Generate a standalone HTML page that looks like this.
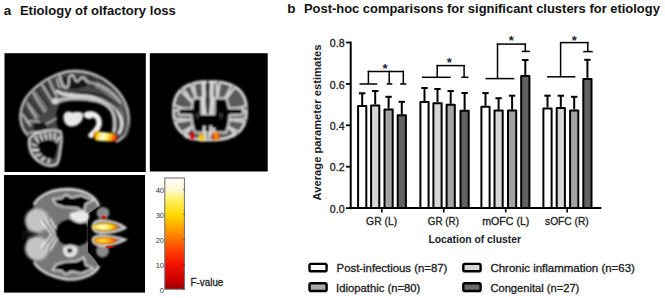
<!DOCTYPE html>
<html><head><meta charset="utf-8">
<style>
html,body{margin:0;padding:0;background:#fff;}
body{width:665px;height:298px;overflow:hidden;position:relative;}
svg{position:absolute;left:0;top:0;display:block;}
text{font-family:"Liberation Sans",sans-serif;}
.r{stroke:#222;stroke-width:0.3px;}
</style></head>
<body>
<svg width="665" height="298" viewBox="0 0 665 298">
<defs>
<filter id="b1" x="-20%" y="-20%" width="140%" height="140%"><feGaussianBlur stdDeviation="0.85"/></filter>
<filter id="b2" x="-20%" y="-20%" width="140%" height="140%"><feGaussianBlur stdDeviation="1.6"/></filter>
<filter id="b3" x="-30%" y="-30%" width="160%" height="160%"><feGaussianBlur stdDeviation="3"/></filter>
<radialGradient id="hot" cx="0.4" cy="0.5" r="0.62">
<stop offset="0" stop-color="#fffff0"/>
<stop offset="0.35" stop-color="#fff590"/>
<stop offset="0.6" stop-color="#ffd800"/>
<stop offset="0.82" stop-color="#ff9a00"/>
<stop offset="1" stop-color="#ff4000"/>
</radialGradient>
<linearGradient id="hotL" x1="0" y1="0" x2="1" y2="0.15">
<stop offset="0" stop-color="#d81000"/>
<stop offset="0.08" stop-color="#ff6a00"/>
<stop offset="0.2" stop-color="#ffd800"/>
<stop offset="0.4" stop-color="#ffffd8"/>
<stop offset="0.6" stop-color="#fff27a"/>
<stop offset="0.8" stop-color="#ffb400"/>
<stop offset="0.93" stop-color="#ff5000"/>
<stop offset="1" stop-color="#e02000"/>
</linearGradient>
<radialGradient id="hot2" cx="0.4" cy="0.5" r="0.62">
<stop offset="0" stop-color="#fff27a"/>
<stop offset="0.35" stop-color="#ffc400"/>
<stop offset="0.7" stop-color="#ff8000"/>
<stop offset="1" stop-color="#ff3000"/>
</radialGradient>
<clipPath id="c1"><rect x="4.5" y="53.2" width="141.3" height="118.8"/></clipPath>
<clipPath id="c2"><rect x="149.8" y="53.2" width="117.9" height="118.3"/></clipPath>
<clipPath id="ce2"><path d="M247.4,110.8 L247.3,115.1 L246.9,118.2 L246.4,121.0 L245.6,123.6 L244.6,125.9 L243.3,128.1 L241.9,130.1 L240.2,131.9 L238.3,133.6 L236.3,135.1 L234.0,136.5 L231.5,137.6 L228.8,138.6 L225.9,139.4 L222.7,140.1 L219.2,140.5 L215.3,140.8 L210.0,140.9 L204.7,140.8 L200.8,140.5 L197.3,140.1 L194.1,139.4 L191.2,138.6 L188.5,137.6 L186.0,136.5 L183.7,135.1 L181.7,133.6 L179.8,131.9 L178.1,130.1 L176.7,128.1 L175.4,125.9 L174.4,123.6 L173.6,121.0 L173.1,118.2 L172.7,115.1 L172.6,110.8 L172.7,106.5 L173.1,103.4 L173.6,100.6 L174.4,98.0 L175.4,95.7 L176.7,93.5 L178.1,91.5 L179.8,89.7 L181.7,88.0 L183.7,86.5 L186.0,85.1 L188.5,84.0 L191.2,83.0 L194.1,82.2 L197.3,81.5 L200.8,81.1 L204.7,80.8 L210.0,80.7 L215.3,80.8 L219.2,81.1 L222.7,81.5 L225.9,82.2 L228.8,83.0 L231.5,84.0 L234.0,85.1 L236.3,86.5 L238.3,88.0 L240.2,89.7 L241.9,91.5 L243.3,93.5 L244.6,95.7 L245.6,98.0 L246.4,100.6 L246.9,103.4 L247.3,106.5 Z"/></clipPath>
<clipPath id="c3"><rect x="4" y="175" width="141" height="117.6"/></clipPath>
</defs>

<!-- panel 1: sagittal -->
<rect x="4.5" y="53.2" width="141.3" height="118.8" fill="#000"/>
<g clip-path="url(#c1)">
<g filter="url(#b1)">
<!-- cerebrum tissue -->
<path d="M28,136 C22,130 19.5,122 20.2,114 C21,106 24,99 29,93.5 C34,88 40,83 47,79 C53,75.5 59,73 66,71.5 C78,69.5 92,72 104,79 C116,87 125,98 128,110 C130,120 129,130 125,135 C122,139 119,141 116,142 L113,140 C114.5,132 114.5,122 112.5,113.5 C109,106 101,101.5 90,101 C78,100.5 66,100.5 59,105 C55,114 56,122 58,128 L58,131 C48,130 38,131 30,134 Z" fill="#474747"/>
<!-- outer bright edge -->
<path d="M28,136 C22,130 19.5,122 20.2,114 C21,106 24,99 29,93.5 C34,88 40,83 47,79 C53,75.5 59,73 66,71.5 C78,69.5 92,72 104,79 C116,87 125,98 128,110 C130,120 129,130 125,135 C122,139 119,141 116,142" fill="none" stroke="#d4d4d4" stroke-width="1.8"/>
<!-- posterior gyri: white radial -->
<path d="M41.5,84 C45,89 49,96 53.6,103.6 M33,92.5 C36,98 40,105 45.2,112 M26.5,101.6 C29,107 33,113 37,119 M49,79.5 C51,85 54,91 57,97 M22,114 C25,118 28,122 31,126" fill="none" stroke="#d0d0d0" stroke-width="1.4"/>
<path d="M36,89 C40,94 45,101 49.5,108 M28,98 C31,102 36,108 41,115.5 M44,82 C47,87 51,94 55,100 M22.5,108 C26,112 29,117 33,122" fill="none" stroke="#1e1e1e" stroke-width="1.3"/>
<path d="M34,91 C38,96 43,103 47,110 M26,101 C30,105 34,111 39,117" fill="none" stroke="#8a8a8a" stroke-width="1.6"/>
<!-- white patch -->
<ellipse cx="55.5" cy="101" rx="3.5" ry="3" fill="#d8d8d8"/>
<!-- paracentral loop -->
<path d="M63.5,78 C65,75.5 72,75.5 80,76.5 C84,77.5 87.5,80 88.5,83 C86.5,87.5 80,89 72,89 C67,88.5 63.5,84 63.5,78 Z" fill="#121212"/>
<path d="M59.5,75 C60.5,80 61.5,85.5 64.5,87.5 C67.5,89 69.3,85 68.8,80 C68.5,76.5 70.5,74.5 73.3,75.8 C75.2,77.5 74.5,81.5 76.8,81.6 C79.2,81.6 79.6,77.2 82.2,77.3 C84.7,77.8 86.2,80.2 88.2,82.5" fill="none" stroke="#dadada" stroke-width="1.7"/>
<path d="M57,78 C57.5,85 60,90.5 66,92.5 C72,94 80,93.5 88,93.5" fill="none" stroke="#c8c8c8" stroke-width="1.4"/>
<path d="M88,74 C92,78 94,82 92,88 M100,78 C102,82 102,86 100,90" fill="none" stroke="#1a1a1a" stroke-width="1.4"/>
<!-- frontal band brightening -->
<path d="M96,84 C108,90 118,99 123.5,110 C127,119 127,128 123.5,136" fill="none" stroke="#7c7c7c" stroke-width="6"/>
<path d="M86,81.5 C95,83 103,86.5 110,91.5 C115,95.5 118.5,99.5 120.5,103" fill="none" stroke="#c4c4c4" stroke-width="1.5"/>
<path d="M88,78 C97,79.5 106,83.5 113,89" fill="none" stroke="#222" stroke-width="1.2"/>
<!-- cingulate sulcus (dark) -->
<path d="M58,88.5 C64,91 70,92.3 76,92.5 C84,92.7 95,93.5 103,96 C110,98.5 118,103 122.8,108.4 C126,114 126,120 125,125 C124.5,129 123.5,132 121.7,135" fill="none" stroke="#141414" stroke-width="1.8"/>
<!-- bright cingulate band -->
<path d="M56,90.6 C60,93 64,95 67.6,95.3 C72,95.8 76,95.8 79.3,95.8 C84,96 88,96.2 91,96.8 C96,98 102,100.5 108,104 C113,107 117.5,111 120,116 C122,120 122,124 121.5,127 C121,130 120,132 118.4,134" fill="none" stroke="#e4e4e4" stroke-width="2.6"/>
<!-- dark gap -->
<path d="M96,100.3 C104,102.3 110,105.5 114.5,110 C117.5,114 118.4,120 118.2,125 C118,128 117.5,131 116.5,134" fill="none" stroke="#1a1a1a" stroke-width="1.4"/>
<!-- corpus callosum grey band -->
<path d="M58,100.5 C64,98.5 70,98.3 76,98.6 C83,98.9 90,99.3 96,100.8 C102,102.3 107,105 110.5,109 C113.5,113 114.5,118 114.5,123.7 C114.5,127 114,130 113.5,133" fill="none" stroke="#bdbdbd" stroke-width="3.6"/>
<!-- occipital lower -->
<ellipse cx="40" cy="127" rx="7" ry="4.5" fill="#141414"/>
<path d="M26,122 C32,120 36,121 40,122 M46,124 C50,122 54,120 57,118 M28,133 C34,132 40,132 48,131" fill="none" stroke="#bdbdbd" stroke-width="1.4"/>
<!-- cerebellum -->
<path d="M29,139 C28,149 32,157 39,162 C45,166 52,167 57,164.5 C60,160 60,153 61,147 C62,141 62.5,135 60.5,131 C53,129.5 44,130.5 37,133 C32,135 29.5,137 29,139 Z" fill="#555" stroke="#d8d8d8" stroke-width="2"/>
<path d="M33.5,142 C40,137.5 49,137 57.5,139.5 C58.5,146 57.5,153 54.5,159.5 C47,159.5 40,155 36,150 C34,147 33.5,144.5 33.5,142 Z" fill="#050505"/>
<path d="M35,136 L38.5,143 M40,134 L42.5,141 M45,133 L46.5,140 M50,133 L50.5,140 M55,133 L54,140.5 M59.5,137 L56,142.5 M31.5,144 L37.5,146 M32,150 L39,150 M35,156 L41.5,154 M41,161 L45,157 M48,163.5 L49.5,158.5" stroke="#e2e2e2" stroke-width="1.8" fill="none"/>
<!-- thalamus -->
<g transform="translate(73 119) scale(1.12) translate(-73 -119)"><path d="M64.5,117.5 C64.5,114 66.5,112.3 69.5,112.4 C71,112.5 72,113.4 73,113.1 C75,112.4 79,112.4 81.2,113.6 C82.8,115.5 81.8,119.5 79.8,122 C77.8,124.6 74,126 71,125.8 C67.5,125.5 64.5,122.5 64.5,117.5 Z" fill="#e8e8e8"/></g>
<!-- hook -->
<path d="M86.5,114.8 C90.5,112.8 95.5,114.3 98,118 C99.8,121.5 99.3,125.5 97,129 C95,131.8 93,133.6 91,135.3" fill="none" stroke="#efefef" stroke-width="5.6" stroke-linecap="round"/>
<ellipse cx="89" cy="115.6" rx="4.2" ry="3.4" fill="#efefef"/>
</g>
<!-- orange blob -->
<path d="M95.5,131.6 C101,131.6 108,132.6 113.5,133.6 C116.5,134.4 117.8,136.8 117.2,139.3 C116.5,141.3 113,141.6 109,141.4 C104,141.1 99,140.8 96.5,140.4 C94.3,139.8 93.8,136.5 94.2,133.5 C94.4,132.3 94.8,131.7 95.5,131.6 Z" fill="url(#hotL)" filter="url(#b1)"/>
</g>

<!-- panel 2: coronal -->
<rect x="149.8" y="53.2" width="117.9" height="118.3" fill="#000"/>
<g clip-path="url(#c2)">
<g filter="url(#b1)">
<path d="M246.6,110.8 L246.5,115.0 L246.2,118.0 L245.6,120.7 L244.8,123.2 L243.8,125.5 L242.6,127.6 L241.2,129.6 L239.6,131.4 L237.7,133.0 L235.7,134.5 L233.5,135.8 L231.0,136.9 L228.4,137.9 L225.5,138.7 L222.4,139.3 L219.0,139.7 L215.2,140.0 L210.0,140.1 L204.8,140.0 L201.0,139.7 L197.6,139.3 L194.5,138.7 L191.6,137.9 L189.0,136.9 L186.5,135.8 L184.3,134.5 L182.3,133.0 L180.4,131.4 L178.8,129.6 L177.4,127.6 L176.2,125.5 L175.2,123.2 L174.4,120.7 L173.8,118.0 L173.5,115.0 L173.4,110.8 L173.5,106.6 L173.8,103.6 L174.4,100.9 L175.2,98.4 L176.2,96.1 L177.4,94.0 L178.8,92.0 L180.4,90.2 L182.3,88.6 L184.3,87.1 L186.5,85.8 L189.0,84.7 L191.6,83.7 L194.5,82.9 L197.6,82.3 L201.0,81.9 L204.8,81.6 L210.0,81.5 L215.2,81.6 L219.0,81.9 L222.4,82.3 L225.5,82.9 L228.4,83.7 L231.0,84.7 L233.5,85.8 L235.7,87.1 L237.7,88.6 L239.6,90.2 L241.2,92.0 L242.6,94.0 L243.8,96.1 L244.8,98.4 L245.6,100.9 L246.2,103.6 L246.5,106.6 Z" fill="#5a5a5a" stroke="#dcdcdc" stroke-width="2.6" stroke-linejoin="round"/>
<!-- sulci wedges -->
<g clip-path="url(#ce2)"><path d="M188.5,79.7 L196.0,98.2 L192.4,78.6 Z M177.6,87.4 L192.5,102.7 L180.7,84.9 Z M172.1,109.7 L194.7,111.7 L173.0,105.2 Z M171.1,122.9 L190.2,119.6 L170.9,118.9 Z M184.3,135.3 L192.5,126.3 L182.0,132.5 Z M216.5,78.5 L217.2,98.2 L220.5,78.7 Z M232.4,83.9 L222.8,102.7 L235.8,86.0 Z M247.6,105.5 L225.0,111.7 L248.3,110.1 Z M250.1,118.9 L229.5,119.6 L249.9,122.9 Z M239.5,132.8 L227.3,126.3 L237.4,135.7 Z" fill="#050505" stroke="#d4d4d4" stroke-width="2.2" stroke-linejoin="round"/></g>
<!-- central dark -->
<path d="M193.5,98.5 L201.5,98 L201.5,114 L214.5,114 L214.5,98 L226.5,98.5 C228,103 228.5,106 229,108.3 L243,108 L243,114.5 L229.5,115.2 C229.5,122 228,128 226,132.5 L195,132.5 C193,128 191.5,122 191.5,115.2 L178.5,114.7 L178.5,108.5 L192,108.2 C192,104 192.5,101 193.5,98.5 Z" fill="#060606" stroke="#cfcfcf" stroke-width="2" stroke-linejoin="round"/>
<!-- medial cortex -->
<path d="M203.8,81.5 C202.3,88 205.2,92 203.6,98 C202.4,104 205.2,108 204.2,114" stroke="#dedede" stroke-width="3.4" fill="none"/>
<path d="M211.6,81.5 C213.1,88 210.3,92 211.9,98 C213.1,104 210.3,108 211.3,114" stroke="#dedede" stroke-width="3.4" fill="none"/>
<path d="M207.8,80 L207.8,114" stroke="#060606" stroke-width="2" fill="none"/>
<ellipse cx="197.8" cy="115.5" rx="2" ry="3" fill="#303030"/>
<ellipse cx="221" cy="115.5" rx="2" ry="3" fill="#303030"/>
<!-- gyrus rectus white -->
<path d="M204.5,126 C203.5,130 204.5,134 206,138 M210.5,125.5 C211.5,130 210.5,134 209,138 M214,128 L214,136" stroke="#e6e6e6" stroke-width="2.4" fill="none"/>
<!-- bottom white rim -->
<path d="M184,136 C188,138.5 193,139.5 197,139.5 M218,139.8 C224,139.5 230,137 236,133" stroke="#dedede" stroke-width="2" fill="none"/>
</g>
<!-- orange blobs -->
<g filter="url(#b1)">
<rect x="190.5" y="132.4" width="3.6" height="7.2" fill="#e00000"/>
<rect x="198.8" y="134" width="2.6" height="7.2" fill="#ffe020"/>
<rect x="201.4" y="134" width="1.6" height="7.2" fill="#ff9000"/>
<rect x="203" y="134" width="1.8" height="7.2" fill="#fff060"/>
<rect x="212.7" y="132.6" width="2.4" height="7.4" fill="#ff2a00"/>
<rect x="215.1" y="132.6" width="2.6" height="7.4" fill="#ff9a00"/>
<rect x="217.7" y="132.6" width="1.4" height="7.4" fill="#ff5000"/>
</g>
</g>

<!-- panel 3: axial -->
<rect x="4" y="175" width="141" height="117.6" fill="#000"/>
<g clip-path="url(#c3)">
<!-- silhouette -->
<path d="M99,206 C97,200 93,196 87,193 C80,190 74,189 67,189 C58,189.3 52,190.5 47.5,192.8 C41,196 36,200 33.7,204.7 C29,212 26,222 25.8,234 C26,246 29,255 33.7,262 C37,268 42,271 47.5,274 C54,277 60,278.5 67.3,279.5 C75,280 84,278 90,275 C95,272 98,269 99,266 C96,260 92,256 88,252 L88,214 C92,211 96,209 99,206 Z" fill="#767676"/>
<path d="M33.7,204.7 C29,212 26,222 25.8,234 C26,246 29,255 33.7,262" fill="none" stroke="#000" stroke-width="3" filter="url(#b2)"/>
<!-- posterior diffuse brightening -->
<ellipse cx="37" cy="220.5" rx="12" ry="12" fill="#c4c4c4" filter="url(#b2)"/>
<ellipse cx="37" cy="248.5" rx="12" ry="12" fill="#c4c4c4" filter="url(#b2)"/>
<path d="M22,229.5 L39,234.5 L22,239.5 Z" fill="#0a0a0a" filter="url(#b2)"/>
<g filter="url(#b1)">
<!-- outer ribbon -->
<path d="M99,206 C97,200 93,196 87,193 C80,190 74,189 67,189 C58,189.3 52,190.5 47.5,192.8 C41,196 36,200 33.7,204.7" fill="none" stroke="#dedede" stroke-width="2.4"/>
<path d="M33.7,262 C37,268 42,271 47.5,274 C54,277 60,278.5 67.3,279.5 C75,280 84,278 90,275 C95,272 98,269 99,266" fill="none" stroke="#dedede" stroke-width="2.4"/>
<!-- upper lobe black star -->
<path d="M52.5,199 L61.5,198.2 L65.5,194.5 L71.5,197.5 L81.5,195.5 L93.5,200.5 L86,204 L84,212 L77,208 L64,207 L56,204.5 Z" fill="#040404" stroke="#dadada" stroke-width="1.7" stroke-linejoin="round"/>
<!-- lower lobe black star -->
<path d="M52.5,270 L61.5,270.8 L65.5,274.5 L71.5,271.5 L81.5,273.5 L93.5,268.5 L86,265 L84,257 L77,261 L64,262 L56,264.5 Z" fill="#040404" stroke="#dadada" stroke-width="1.7" stroke-linejoin="round"/>
<!-- posterior ridges (chevrons) -->
<path d="M41,221 L51.5,234.5 L41,248 M45.5,219.5 L55.5,234.5 L45.5,249.5 M50,218.5 L59,234.5 L50,250.5" stroke="#f0f0f0" stroke-width="1.8" fill="none" stroke-linejoin="round"/>
<path d="M43.3,220 L53.5,234.5 L43.3,249 M47.8,219 L57.3,234.5 L47.8,250" stroke="#2a2a2a" stroke-width="1.2" fill="none" stroke-linejoin="round"/>
<!-- central dark -->
<path d="M55,232 C56,224.5 63,219.5 72,219 C80,219 86,222 88,227 L88,240 C86,244 80,246.5 72,246.5 C63,246 56,240 55,232 Z" fill="#030303"/>
<!-- white blobs near center -->
<path d="M70,213.5 C75,210 85,210 89,214 C90,219 87,222.5 81,223 C77,223 73,221 71,219 C69.5,217 69.5,215 70,213.5 Z" fill="#e8e8e8"/>
<path d="M63,247.5 C66,244.5 74,244 77,247.5 C79,252 76,257 70,257.5 C66,257.5 63,254 63,251 Z" fill="#e6e6e6"/>
<ellipse cx="69.8" cy="250.5" rx="2.6" ry="2.6" fill="#111"/>
<!-- frontal grey areas -->
<ellipse cx="103" cy="213" rx="6.5" ry="6" fill="#8a8a8a"/>
<ellipse cx="102.5" cy="251" rx="6.5" ry="6.5" fill="#8a8a8a"/>
<!-- fingers -->
<path d="M92.5,226.5 C93,222 96,220.5 101,220.3 C110,220.3 118,222.5 125.5,227.8 C119,231.5 110,233 101,233 C96,233 93,231 92.5,226.5 Z" fill="#7a7a7a" stroke="#e6e6e6" stroke-width="2"/>
<path d="M92.5,240 C93,236.8 96,235.8 101,235.8 C110,235.8 118,237 125.5,239.6 C119,243.5 110,245.5 101,245.5 C96,245.5 93,244 92.5,240 Z" fill="#7a7a7a" stroke="#e6e6e6" stroke-width="2"/>
</g>
<!-- hot blobs -->
<ellipse cx="105" cy="227" rx="12.5" ry="3.9" fill="url(#hot)" filter="url(#b1)"/>
<ellipse cx="105" cy="240.6" rx="11.8" ry="3.4" fill="url(#hot2)" filter="url(#b1)"/>
<circle cx="103.5" cy="217.5" r="2" fill="#e01000"/>
<path d="M105.7,247 L113.4,246.6" stroke="#e01000" stroke-width="1.6"/>
</g>

<line x1="362.20" y1="105.10" x2="362.20" y2="93.30" stroke="#000" stroke-width="2"/>
<line x1="359.00" y1="93.30" x2="365.40" y2="93.30" stroke="#000" stroke-width="2"/>
<rect x="358.10" y="106.10" width="8.20" height="102.00" fill="#ffffff" stroke="#000" stroke-width="2" stroke-linejoin="round"/>
<line x1="375.20" y1="104.50" x2="375.20" y2="91.00" stroke="#000" stroke-width="2"/>
<line x1="372.00" y1="91.00" x2="378.40" y2="91.00" stroke="#000" stroke-width="2"/>
<rect x="371.10" y="105.50" width="8.20" height="102.60" fill="#d6d6d6" stroke="#000" stroke-width="2" stroke-linejoin="round"/>
<line x1="388.60" y1="108.50" x2="388.60" y2="96.80" stroke="#000" stroke-width="2"/>
<line x1="385.40" y1="96.80" x2="391.80" y2="96.80" stroke="#000" stroke-width="2"/>
<rect x="384.50" y="109.50" width="8.20" height="98.60" fill="#a3a3a3" stroke="#000" stroke-width="2" stroke-linejoin="round"/>
<line x1="401.80" y1="114.30" x2="401.80" y2="101.80" stroke="#000" stroke-width="2"/>
<line x1="398.60" y1="101.80" x2="405.00" y2="101.80" stroke="#000" stroke-width="2"/>
<rect x="397.70" y="115.30" width="8.20" height="92.80" fill="#626262" stroke="#000" stroke-width="2" stroke-linejoin="round"/>
<line x1="424.50" y1="101.10" x2="424.50" y2="88.00" stroke="#000" stroke-width="2"/>
<line x1="421.30" y1="88.00" x2="427.70" y2="88.00" stroke="#000" stroke-width="2"/>
<rect x="420.40" y="102.10" width="8.20" height="106.00" fill="#ffffff" stroke="#000" stroke-width="2" stroke-linejoin="round"/>
<line x1="437.50" y1="102.20" x2="437.50" y2="89.00" stroke="#000" stroke-width="2"/>
<line x1="434.30" y1="89.00" x2="440.70" y2="89.00" stroke="#000" stroke-width="2"/>
<rect x="433.40" y="103.20" width="8.20" height="104.90" fill="#d6d6d6" stroke="#000" stroke-width="2" stroke-linejoin="round"/>
<line x1="450.70" y1="103.80" x2="450.70" y2="91.00" stroke="#000" stroke-width="2"/>
<line x1="447.50" y1="91.00" x2="453.90" y2="91.00" stroke="#000" stroke-width="2"/>
<rect x="446.60" y="104.80" width="8.20" height="103.30" fill="#a3a3a3" stroke="#000" stroke-width="2" stroke-linejoin="round"/>
<line x1="464.60" y1="109.80" x2="464.60" y2="93.00" stroke="#000" stroke-width="2"/>
<line x1="461.40" y1="93.00" x2="467.80" y2="93.00" stroke="#000" stroke-width="2"/>
<rect x="460.50" y="110.80" width="8.20" height="97.30" fill="#626262" stroke="#000" stroke-width="2" stroke-linejoin="round"/>
<line x1="485.50" y1="105.80" x2="485.50" y2="93.10" stroke="#000" stroke-width="2"/>
<line x1="482.30" y1="93.10" x2="488.70" y2="93.10" stroke="#000" stroke-width="2"/>
<rect x="481.40" y="106.80" width="8.20" height="101.30" fill="#ffffff" stroke="#000" stroke-width="2" stroke-linejoin="round"/>
<line x1="498.60" y1="109.60" x2="498.60" y2="98.20" stroke="#000" stroke-width="2"/>
<line x1="495.40" y1="98.20" x2="501.80" y2="98.20" stroke="#000" stroke-width="2"/>
<rect x="494.50" y="110.60" width="8.20" height="97.50" fill="#d6d6d6" stroke="#000" stroke-width="2" stroke-linejoin="round"/>
<line x1="512.10" y1="109.60" x2="512.10" y2="95.70" stroke="#000" stroke-width="2"/>
<line x1="508.90" y1="95.70" x2="515.30" y2="95.70" stroke="#000" stroke-width="2"/>
<rect x="508.00" y="110.60" width="8.20" height="97.50" fill="#a3a3a3" stroke="#000" stroke-width="2" stroke-linejoin="round"/>
<line x1="525.30" y1="75.10" x2="525.30" y2="60.00" stroke="#000" stroke-width="2"/>
<line x1="522.10" y1="60.00" x2="528.50" y2="60.00" stroke="#000" stroke-width="2"/>
<rect x="521.20" y="76.10" width="8.20" height="132.00" fill="#626262" stroke="#000" stroke-width="2" stroke-linejoin="round"/>
<line x1="547.50" y1="107.50" x2="547.50" y2="95.70" stroke="#000" stroke-width="2"/>
<line x1="544.30" y1="95.70" x2="550.70" y2="95.70" stroke="#000" stroke-width="2"/>
<rect x="543.40" y="108.50" width="8.20" height="99.60" fill="#ffffff" stroke="#000" stroke-width="2" stroke-linejoin="round"/>
<line x1="560.80" y1="106.90" x2="560.80" y2="95.70" stroke="#000" stroke-width="2"/>
<line x1="557.60" y1="95.70" x2="564.00" y2="95.70" stroke="#000" stroke-width="2"/>
<rect x="556.70" y="107.90" width="8.20" height="100.20" fill="#d6d6d6" stroke="#000" stroke-width="2" stroke-linejoin="round"/>
<line x1="574.20" y1="109.40" x2="574.20" y2="96.80" stroke="#000" stroke-width="2"/>
<line x1="571.00" y1="96.80" x2="577.40" y2="96.80" stroke="#000" stroke-width="2"/>
<rect x="570.10" y="110.40" width="8.20" height="97.70" fill="#a3a3a3" stroke="#000" stroke-width="2" stroke-linejoin="round"/>
<line x1="587.40" y1="77.90" x2="587.40" y2="59.80" stroke="#000" stroke-width="2"/>
<line x1="584.20" y1="59.80" x2="590.60" y2="59.80" stroke="#000" stroke-width="2"/>
<rect x="583.30" y="78.90" width="8.20" height="129.20" fill="#626262" stroke="#000" stroke-width="2" stroke-linejoin="round"/>
<line x1="367.7" y1="71.4" x2="404.0" y2="71.4" stroke="#000" stroke-width="1.5"/>
<line x1="368.4" y1="70.7" x2="368.4" y2="84.0" stroke="#000" stroke-width="1.5"/>
<line x1="359.5" y1="84.0" x2="377.2" y2="84.0" stroke="#000" stroke-width="1.5"/>
<line x1="389.2" y1="70.7" x2="389.2" y2="84.0" stroke="#000" stroke-width="1.5"/>
<line x1="386.7" y1="84.0" x2="392.3" y2="84.0" stroke="#000" stroke-width="1.5"/>
<line x1="403.3" y1="70.7" x2="403.3" y2="84.0" stroke="#000" stroke-width="1.5"/>
<line x1="400.1" y1="84.0" x2="406.4" y2="84.0" stroke="#000" stroke-width="1.5"/>
<text x="385.0" y="72.8" font-size="13" text-anchor="middle" fill="#1a1a3a" font-weight="bold">*</text>
<line x1="436.5" y1="65.6" x2="464.8" y2="65.6" stroke="#000" stroke-width="1.5"/>
<line x1="437.2" y1="64.9" x2="437.2" y2="77.3" stroke="#000" stroke-width="1.5"/>
<line x1="422.0" y1="77.3" x2="450.8" y2="77.3" stroke="#000" stroke-width="1.5"/>
<line x1="464.1" y1="64.9" x2="464.1" y2="77.3" stroke="#000" stroke-width="1.5"/>
<line x1="461.3" y1="77.3" x2="468.4" y2="77.3" stroke="#000" stroke-width="1.5"/>
<text x="449.2" y="66.7" font-size="13" text-anchor="middle" fill="#1a1a3a" font-weight="bold">*</text>
<line x1="496.8" y1="44.1" x2="526.0" y2="44.1" stroke="#000" stroke-width="1.5"/>
<line x1="497.5" y1="43.4" x2="497.5" y2="78.6" stroke="#000" stroke-width="1.5"/>
<line x1="485.5" y1="78.6" x2="514.3" y2="78.6" stroke="#000" stroke-width="1.5"/>
<line x1="525.3" y1="43.4" x2="525.3" y2="51.4" stroke="#000" stroke-width="1.5"/>
<line x1="521.8" y1="51.4" x2="529.9" y2="51.4" stroke="#000" stroke-width="1.5"/>
<text x="511.4" y="45.4" font-size="13" text-anchor="middle" fill="#1a1a3a" font-weight="bold">*</text>
<line x1="559.9" y1="42.6" x2="588.5" y2="42.6" stroke="#000" stroke-width="1.5"/>
<line x1="560.6" y1="41.9" x2="560.6" y2="76.8" stroke="#000" stroke-width="1.5"/>
<line x1="547.0" y1="76.8" x2="575.3" y2="76.8" stroke="#000" stroke-width="1.5"/>
<line x1="587.8" y1="41.9" x2="587.8" y2="51.6" stroke="#000" stroke-width="1.5"/>
<line x1="583.3" y1="51.6" x2="592.7" y2="51.6" stroke="#000" stroke-width="1.5"/>
<text x="574.2" y="45.4" font-size="13" text-anchor="middle" fill="#1a1a3a" font-weight="bold">*</text>
<line x1="350.7" y1="41.6" x2="350.7" y2="209.1" stroke="#000" stroke-width="2"/>
<line x1="349.7" y1="208.1" x2="601.3" y2="208.1" stroke="#000" stroke-width="2"/>
<line x1="345.9" y1="208.1" x2="350.5" y2="208.1" stroke="#000" stroke-width="1.8"/>
<text x="344.6" y="212.70" font-size="10.6" text-anchor="end" fill="#222" class="r">0.0</text>
<line x1="345.9" y1="166.7" x2="350.5" y2="166.7" stroke="#000" stroke-width="1.8"/>
<text x="344.6" y="171.30" font-size="10.6" text-anchor="end" fill="#222" class="r">0.2</text>
<line x1="345.9" y1="125.29999999999998" x2="350.5" y2="125.29999999999998" stroke="#000" stroke-width="1.8"/>
<text x="344.6" y="129.90" font-size="10.6" text-anchor="end" fill="#222" class="r">0.4</text>
<line x1="345.9" y1="83.9" x2="350.5" y2="83.9" stroke="#000" stroke-width="1.8"/>
<text x="344.6" y="88.50" font-size="10.6" text-anchor="end" fill="#222" class="r">0.6</text>
<line x1="345.9" y1="42.49999999999997" x2="350.5" y2="42.49999999999997" stroke="#000" stroke-width="1.8"/>
<text x="344.6" y="47.10" font-size="10.6" text-anchor="end" fill="#222" class="r">0.8</text>
<line x1="381.8" y1="208.1" x2="381.8" y2="212.4" stroke="#000" stroke-width="1.6"/>
<text x="381.6" y="224.8" font-size="10" text-anchor="middle" fill="#222" class="r" textLength="31.0" lengthAdjust="spacingAndGlyphs">GR (L)</text>
<line x1="443.8" y1="208.1" x2="443.8" y2="212.4" stroke="#000" stroke-width="1.6"/>
<text x="443.4" y="224.8" font-size="10" text-anchor="middle" fill="#222" class="r" textLength="31.2" lengthAdjust="spacingAndGlyphs">GR (R)</text>
<line x1="505.7" y1="208.1" x2="505.7" y2="212.4" stroke="#000" stroke-width="1.6"/>
<text x="505.8" y="224.8" font-size="10" text-anchor="middle" fill="#222" class="r" textLength="47.2" lengthAdjust="spacingAndGlyphs">mOFC (L)</text>
<line x1="567.2" y1="208.1" x2="567.2" y2="212.4" stroke="#000" stroke-width="1.6"/>
<text x="566.9" y="224.8" font-size="10" text-anchor="middle" fill="#222" class="r" textLength="43.6" lengthAdjust="spacingAndGlyphs">sOFC (R)</text>
<text x="428.4" y="242.9" font-size="10.5" font-weight="bold" fill="#1a1a2a" textLength="92.7" lengthAdjust="spacingAndGlyphs">Location of cluster</text>
<text transform="translate(321.4,200.4) rotate(-90)" x="0" y="0" font-size="10.5" font-weight="bold" fill="#1a1a2a" textLength="155.8" lengthAdjust="spacingAndGlyphs">Average parameter estimates</text>
<rect x="309.50" y="263.90" width="17.10" height="7.40" rx="1.6" fill="#ffffff" stroke="#000" stroke-width="2.4"/>
<rect x="309.50" y="283.30" width="17.10" height="7.70" rx="1.6" fill="#a8a8a8" stroke="#000" stroke-width="2.4"/>
<rect x="463.30" y="263.90" width="17.30" height="7.40" rx="1.6" fill="#d6d6d6" stroke="#000" stroke-width="2.4"/>
<rect x="463.30" y="283.30" width="17.30" height="7.70" rx="1.6" fill="#6a6a6a" stroke="#000" stroke-width="2.4"/>
<text x="336.6" y="271.8" font-size="10.5" fill="#222" class="r" textLength="110.7" lengthAdjust="spacingAndGlyphs">Post-infectious (n=87)</text>
<text x="336.1" y="291.6" font-size="10.5" fill="#222" class="r" textLength="84.2" lengthAdjust="spacingAndGlyphs">Idiopathic (n=80)</text>
<text x="490.4" y="271.8" font-size="10.5" fill="#222" class="r" textLength="144.5" lengthAdjust="spacingAndGlyphs">Chronic inflammation (n=63)</text>
<text x="490.4" y="291.6" font-size="10.5" fill="#222" class="r" textLength="88.9" lengthAdjust="spacingAndGlyphs">Congenital (n=27)</text>
<text x="3.8" y="14.5" font-size="13.5" font-weight="bold" fill="#111">a</text>
<text x="19.9" y="14.5" font-size="12.8" font-weight="bold" fill="#111" textLength="156" lengthAdjust="spacingAndGlyphs">Etiology of olfactory loss</text>
<text x="287.3" y="12.7" font-size="13.5" font-weight="bold" fill="#111">b</text>
<text x="303.9" y="12.7" font-size="12.8" font-weight="bold" fill="#111" textLength="356" lengthAdjust="spacingAndGlyphs">Post-hoc comparisons for significant clusters for etiology</text>
<defs>
<linearGradient id="cb" x1="0" y1="1" x2="0" y2="0">
<stop offset="0" stop-color="#9a0000"/>
<stop offset="0.083" stop-color="#cc0000"/>
<stop offset="0.218" stop-color="#f01000"/>
<stop offset="0.353" stop-color="#ff4000"/>
<stop offset="0.442" stop-color="#ff7000"/>
<stop offset="0.577" stop-color="#ffb000"/>
<stop offset="0.667" stop-color="#ffd800"/>
<stop offset="0.802" stop-color="#fff060"/>
<stop offset="0.892" stop-color="#fff8d0"/>
<stop offset="1" stop-color="#ffffff"/>
</linearGradient>
</defs>
<rect x="164.8" y="178" width="19.6" height="111.2" fill="url(#cb)" stroke="#6b6b6b" stroke-width="1"/>
<line x1="183.6" y1="189.5" x2="184.4" y2="189.5" stroke="#000" stroke-width="1"/>
<text x="164.1" y="193.00" font-size="7.6" text-anchor="end" fill="#333">40</text>
<line x1="183.6" y1="214.5" x2="184.4" y2="214.5" stroke="#000" stroke-width="1"/>
<text x="164.1" y="218.00" font-size="7.6" text-anchor="end" fill="#333">30</text>
<line x1="183.6" y1="239.5" x2="184.4" y2="239.5" stroke="#000" stroke-width="1"/>
<text x="164.1" y="243.00" font-size="7.6" text-anchor="end" fill="#333">20</text>
<line x1="183.6" y1="264.5" x2="184.4" y2="264.5" stroke="#000" stroke-width="1"/>
<text x="164.1" y="268.00" font-size="7.6" text-anchor="end" fill="#333">10</text>
<line x1="183.6" y1="289.5" x2="184.4" y2="289.5" stroke="#000" stroke-width="1"/>
<text x="164.1" y="293.00" font-size="7.6" text-anchor="end" fill="#333">0</text>
<text x="190.6" y="286" font-size="10.2" fill="#222" class="r" textLength="32.7" lengthAdjust="spacingAndGlyphs">F-value</text>
</svg>
</body></html>
